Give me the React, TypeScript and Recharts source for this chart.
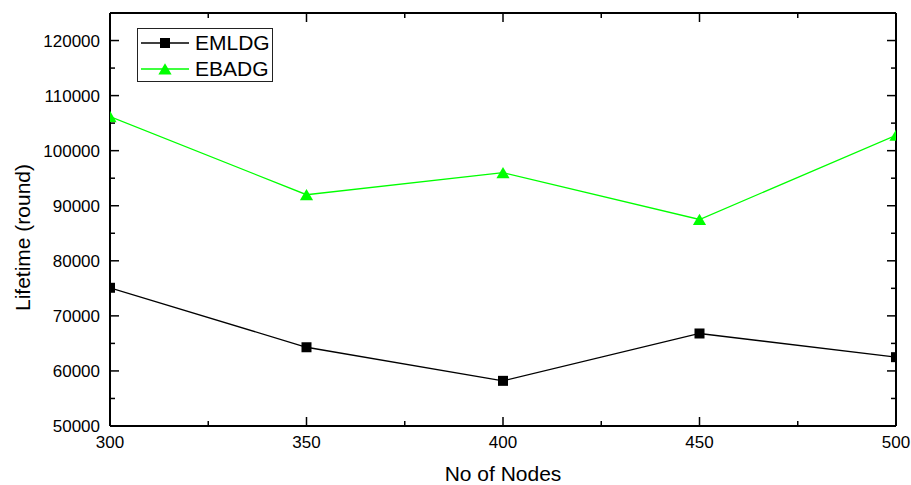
import React from 'react';
import { Legend, Line, LineChart, ReferenceLine, XAxis, YAxis } from 'recharts';

const nodes = [300, 350, 400, 450, 500];
const emldg = [75100, 64300, 58200, 66800, 62500];
const ebadg = [106200, 92000, 96000, 87500, 102800];

const xTicks = [300, 350, 400, 450, 500];
const xMinorTicks = [325, 375, 425, 475];
const yTicks = [50000, 60000, 70000, 80000, 90000, 100000, 110000, 120000];
const yMinorTicks = [55000, 65000, 75000, 85000, 95000, 105000, 115000];

const seriesNames = ['EMLDG', 'EBADG'];
const seriesColors = ['#000000', '#00ff00'];
const seriesMarkers = ['square', 'triangle'];

const data = nodes.map((n, i) => ({ nodes: n, EMLDG: emldg[i], EBADG: ebadg[i] }));
const allXTicks = [...xTicks, ...xMinorTicks].sort((a, b) => a - b);
const allYTicks = [...yTicks, ...yMinorTicks].sort((a, b) => a - b);

const FONT = 'Arial, "Liberation Sans", sans-serif';
const xDomain = [300, 500];
const yDomain = [50000, 125000];
const PLOT_H = 413;
const MAJOR = 9;
const MINOR = 5;

function Marker({ cx, cy, kind, color }: { cx: number; cy: number; kind: string; color: string }) {
  if (kind === 'triangle') {
    const d = `M${cx},${cy - 5.8}L${cx + 6.6},${cy + 5.6}L${cx - 6.6},${cy + 5.6}Z`;
    return <path d={d} fill={color} />;
  }
  return <rect x={cx - 5} y={cy - 5} width={10} height={10} fill={color} />;
}

const makeDot = (idx: number) => (props: any) => {
  const { cx, cy, index } = props;
  if (cx == null || cy == null) return <g key={`d${idx}-${index}`} />;
  return (
    <g key={`d${idx}-${index}`}>
      <Marker cx={cx} cy={cy} kind={seriesMarkers[idx]} color={seriesColors[idx]} />
    </g>
  );
};

function LegendBox({ payload }: any) {
  // keep the plotting order, not the alphabetical one
  const items = [...(payload || [])].sort(
    (a: any, b: any) => seriesNames.indexOf(a.value) - seriesNames.indexOf(b.value)
  );
  return (
    <div
      style={{
        border: '1px solid #222',
        width: 134,
        height: 51,
        paddingTop: 1,
        background: '#fff',
        fontFamily: FONT,
        fontSize: 21,
      }}
    >
      {items.map((entry: any) => {
        const idx = seriesNames.indexOf(entry.value);
        return (
          <div key={entry.value} style={{ display: 'flex', alignItems: 'center', height: 26 }}>
            <svg width={57} height={26}>
              <line x1={3} x2={51} y1={13} y2={13} stroke={seriesColors[idx]} strokeWidth={1.3} />
              <Marker cx={27} cy={13} kind={seriesMarkers[idx]} color={seriesColors[idx]} />
            </svg>
            <span style={{ color: '#000', lineHeight: '26px' }}>{entry.value}</span>
          </div>
        );
      })}
    </div>
  );
}

// inward tick marks (major/minor) drawn at the positions recharts hands over
const tickLen = (v: number, majors: number[]) => (majors.includes(v) ? MAJOR : MINOR);
const labelStyle = { fill: '#000', fontSize: 17, fontFamily: FONT };

const bottomTick = ({ x, y, payload }: any) => (
  <g>
    <line x1={x} x2={x} y1={y} y2={y - tickLen(payload.value, xTicks)} stroke="#000" strokeWidth={1.5} />
    {xTicks.includes(payload.value) && (
      <text x={x} y={y + 10} dy="0.71em" textAnchor="middle" {...labelStyle}>
        {payload.value}
      </text>
    )}
  </g>
);

const leftTick = ({ x, y, payload }: any) => (
  <g>
    <line x1={x} x2={x + tickLen(payload.value, yTicks)} y1={y} y2={y} stroke="#000" strokeWidth={1.5} />
    {yTicks.includes(payload.value) && (
      <text x={x - 10} y={y} dy="0.355em" textAnchor="end" {...labelStyle}>
        {payload.value}
      </text>
    )}
  </g>
);

const rightTick = ({ x, y, payload }: any) => (
  <line x1={x} x2={x - tickLen(payload.value, yTicks)} y1={y} y2={y} stroke="#000" strokeWidth={1.5} />
);

// tick length in pixels turned into y units, for the short stubs on the top edge
const yPerPx = (yDomain[1] - yDomain[0]) / PLOT_H;

const frameLine = { stroke: '#000', strokeWidth: 2 };

export default function App() {
  return (
    <div style={{ position: 'absolute', left: 0, top: 0, background: '#fff' }}>
      <LineChart width={911} height={485} data={data} margin={{ top: 13, right: 15, bottom: 0, left: 10 }}>
        <XAxis
          xAxisId="b"
          dataKey="nodes"
          type="number"
          domain={xDomain}
          ticks={allXTicks}
          interval={0}
          allowDataOverflow
          height={59}
          tickLine={false}
          tickSize={0}
          tickMargin={0}
          axisLine={frameLine}
          tick={bottomTick}
          label={{
            value: 'No of Nodes',
            position: 'insideBottom',
            offset: 4,
            style: { fill: '#000', fontSize: 21, fontFamily: FONT },
          }}
        />
        <YAxis
          yAxisId="l"
          type="number"
          domain={yDomain}
          ticks={allYTicks}
          interval={0}
          allowDataOverflow
          width={100}
          tickLine={false}
          tickSize={0}
          tickMargin={0}
          axisLine={frameLine}
          tick={leftTick}
          label={{
            value: 'Lifetime (round)',
            angle: -90,
            position: 'center',
            dx: -37,
            dy: 18,
            style: { fill: '#000', fontSize: 21, fontFamily: FONT, textAnchor: 'middle' },
          }}
        />
        <YAxis
          yAxisId="r"
          orientation="right"
          type="number"
          domain={yDomain}
          ticks={allYTicks}
          interval={0}
          allowDataOverflow
          mirror
          width={1}
          tickLine={false}
          tickSize={0}
          tickMargin={0}
          tick={rightTick}
          axisLine={frameLine}
        />
        {/* top frame edge */}
        <ReferenceLine
          xAxisId="b"
          yAxisId="l"
          y={yDomain[1]}
          stroke="#000"
          strokeWidth={2}
          ifOverflow="visible"
        />
        {allXTicks.map((v) => (
          <ReferenceLine
            key={`top-${v}`}
            xAxisId="b"
            yAxisId="l"
            segment={[
              { x: v, y: yDomain[1] },
              { x: v, y: yDomain[1] - tickLen(v, xTicks) * yPerPx },
            ]}
            stroke="#000"
            strokeWidth={1.5}
            ifOverflow="visible"
          />
        ))}
        <Legend
          layout="vertical"
          align="center"
          verticalAlign="middle"
          content={<LegendBox />}
          wrapperStyle={{ left: 137, top: 28, width: 136, height: 53 }}
        />
        {seriesNames.map((name, idx) => (
          <Line
            key={name}
            xAxisId="b"
            yAxisId="l"
            type="linear"
            dataKey={name}
            name={name}
            stroke={seriesColors[idx]}
            strokeWidth={1.3}
            dot={makeDot(idx)}
            activeDot={false}
            isAnimationActive={false}
          />
        ))}
      </LineChart>
    </div>
  );
}
